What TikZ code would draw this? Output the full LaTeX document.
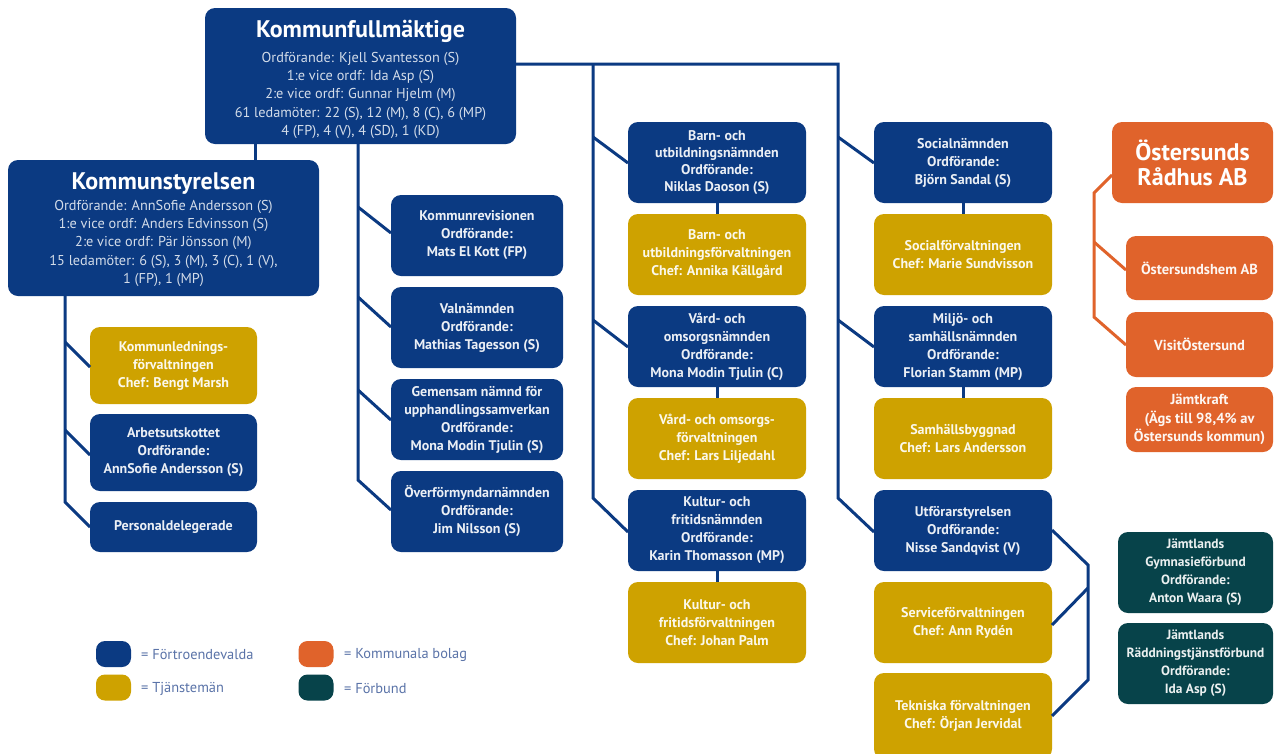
\documentclass[tikz,border=0pt]{standalone}
\usepackage{fontspec}
\setmainfont{PT Sans}
\usetikzlibrary{calc}
\definecolor{kblue}{HTML}{0B3A82}
\definecolor{kgold}{HTML}{CEA200}
\definecolor{korange}{HTML}{E0632B}
\definecolor{kteal}{HTML}{07434A}
\definecolor{klegend}{HTML}{5A73A8}
\begin{document}
\begin{tikzpicture}[x=1pt,y=-1pt,
  basebox/.style={rounded corners=10pt, inner sep=0pt, outer sep=0pt, align=center,
    font=\fontsize{14}{18}\selectfont\bfseries},
  nbox/.style={basebox, fill=kblue, text=white!92!kblue},
  tbox/.style={basebox, fill=kgold, text=white!92!kgold},
  obox/.style={basebox, fill=korange, text=white!94!korange, font=\fontsize{14.5}{18.5}\selectfont\bfseries},
  fbox/.style={basebox, fill=kteal, text=white!92!kteal, font=\fontsize{13.4}{18}\selectfont\bfseries},
  bigbox/.style={nbox},
  bigtext/.style={inner sep=0pt, align=center, font=\fontsize{14.3}{18.3}\selectfont, text=white!82!kblue},
  conn/.style={draw=kblue, line width=3pt, line join=miter},
  oconn/.style={draw=korange, line width=3pt, line join=miter},
  legbox/.style={rounded corners=9pt, inner sep=0pt, outer sep=0pt, minimum width=35pt, minimum height=26pt},
  legtext/.style={anchor=west, inner sep=0pt, text=klegend, font=\fontsize{14.4}{16}\selectfont}
]
\useasboundingbox (0,0) rectangle (1274,753);
\fill[white] (0,0) rectangle (1274,753);

% ---------- top level ----------
\node[bigbox, minimum width=311pt, minimum height=136pt] (kf) at (360.5,76) {};
\node[bigtext] (kft) at (360.5,79.5)
 {{\fontsize{24}{26}\selectfont\bfseries\color{white} Kommunfullmäktige}\\[6pt]
  Ordförande: Kjell Svantesson (S)\\
  1:e vice ordf: Ida Asp (S)\\
  2:e vice ordf: Gunnar Hjelm (M)\\
  61 ledamöter: 22 (S), 12 (M), 8 (C), 6 (MP)\\
  4 (FP), 4 (V), 4 (SD), 1 (KD)};

\node[bigbox, minimum width=311pt, minimum height=136pt] (ks) at (163.5,228) {};
\node[bigtext] (kst) at (163.5,229.5)
 {{\fontsize{24}{26}\selectfont\bfseries\color{white} Kommunstyrelsen}\\[3pt]
  Ordförande: AnnSofie Andersson (S)\\
  1:e vice ordf: Anders Edvinsson (S)\\
  2:e vice ordf: Pär Jönsson (M)\\
  15 ledamöter: 6 (S), 3 (M), 3 (C), 1 (V),\\
  1 (FP), 1 (MP)};

% ---------- column 1 ----------
\node[tbox, minimum width=167pt, minimum height=77pt] (klf) at (173.5,365.5)
 {Kommunlednings-\\förvaltningen\\Chef: Bengt Marsh};
\node[nbox, minimum width=167pt, minimum height=77pt] (au) at (173.5,452.5)
 {Arbetsutskottet\\Ordförande:\\AnnSofie Andersson (S)};
\node[nbox, minimum width=167pt, minimum height=50pt] (pd) at (173.5,527)
 {Personaldelegerade};

% ---------- column 2 ----------
\node[nbox, minimum width=172pt, minimum height=81pt] (kr) at (477,235.5)
 {Kommunrevisionen\\Ordförande:\\Mats El Kott (FP)};
\node[nbox, minimum width=172pt, minimum height=81pt] (vn) at (477,327.5)
 {Valnämnden\\Ordförande:\\Mathias Tagesson (S)};
\node[nbox, minimum width=172pt, minimum height=81pt] (gn) at (477,419.5)
 {Gemensam nämnd för\\upphandlingssamverkan\\Ordförande:\\Mona Modin Tjulin (S)};
\node[nbox, minimum width=172pt, minimum height=81pt] (on) at (477,511.5)
 {Överförmyndarnämnden\\Ordförande:\\Jim Nilsson (S)};

% ---------- column 3 ----------
\node[nbox, minimum width=178pt, minimum height=81pt, font=\fontsize{14}{16.8}\selectfont\bfseries] (bun) at (717,162.5)
 {Barn- och\\utbildningsnämnden\\Ordförande:\\Niklas Daoson (S)};
\node[tbox, minimum width=178pt, minimum height=81pt] (buf) at (717,254.5)
 {Barn- och\\utbildningsförvaltningen\\Chef: Annika Källgård};
\node[nbox, minimum width=178pt, minimum height=81pt] (von) at (717,346.5)
 {Vård- och\\omsorgsnämnden\\Ordförande:\\Mona Modin Tjulin (C)};
\node[tbox, minimum width=178pt, minimum height=81pt] (vof) at (717,438.5)
 {Vård- och omsorgs-\\förvaltningen\\Chef: Lars Liljedahl};
\node[nbox, minimum width=178pt, minimum height=81pt] (kfn) at (717,530.5)
 {Kultur- och\\fritidsnämnden\\Ordförande:\\Karin Thomasson (MP)};
\node[tbox, minimum width=178pt, minimum height=81pt] (kff) at (717,622.5)
 {Kultur- och\\fritidsförvaltningen\\Chef: Johan Palm};

% ---------- column 4 ----------
\node[nbox, minimum width=178pt, minimum height=81pt] (sn) at (963,162.5)
 {Socialnämnden\\Ordförande:\\Björn Sandal (S)};
\node[tbox, minimum width=178pt, minimum height=81pt] (sf) at (963,254.5)
 {Socialförvaltningen\\Chef: Marie Sundvisson};
\node[nbox, minimum width=178pt, minimum height=81pt] (msn) at (963,346.5)
 {Miljö- och\\samhällsnämnden\\Ordförande:\\Florian Stamm (MP)};
\node[tbox, minimum width=178pt, minimum height=81pt] (sb) at (963,438.5)
 {Samhällsbyggnad\\Chef: Lars Andersson};
\node[nbox, minimum width=178pt, minimum height=81pt] (us) at (963,530.5)
 {Utförarstyrelsen\\Ordförande:\\Nisse Sandqvist (V)};
\node[tbox, minimum width=178pt, minimum height=81pt] (svf) at (963,622.5)
 {Serviceförvaltningen\\Chef: Ann Rydén};
\node[tbox, minimum width=178pt, minimum height=86pt] (tf) at (963,716)
 {Tekniska förvaltningen\\Chef: Örjan Jervidal};

% ---------- companies ----------
\node[obox, minimum width=161pt, minimum height=81pt, font=\fontsize{24}{25}\selectfont\bfseries, text=white] (rab) at (1192.5,162.5)
 {Östersunds\\Rådhus AB};
\node[obox, minimum width=147pt, minimum height=64pt] (oh) at (1199.5,268)
 {Östersundshem AB};
\node[obox, minimum width=147pt, minimum height=65pt] (vo) at (1199.5,344.5)
 {VisitÖstersund};
\node[obox, minimum width=147pt, minimum height=65pt] (jk) at (1199.5,419.5)
 {Jämtkraft\\(Ägs till 98,4\% av\\Östersunds kommun)};

% ---------- federations ----------
\node[fbox, minimum width=155pt, minimum height=81pt] (jg) at (1195.5,572.5)
 {Jämtlands\\Gymnasieförbund\\Ordförande:\\Anton Waara (S)};
\node[fbox, minimum width=155pt, minimum height=81pt] (jr) at (1195.5,663.5)
 {Jämtlands\\Räddningstjänstförbund\\Ordförande:\\Ida Asp (S)};

% ---------- junction coordinates ----------
\coordinate (kfks) at (255,144);
\coordinate (c1t) at (65,296);
\coordinate (c1a) at (65,342);
\coordinate (c1b) at (65,430);
\coordinate (c1c) at (65,502);
\coordinate (c2t) at (358,144);
\coordinate (c2a) at (358,207);
\coordinate (c2b) at (358,297);
\coordinate (c2c) at (358,390);
\coordinate (c2d) at (358,480);
\coordinate (c3t) at (593,64);
\coordinate (c3a) at (593,137);
\coordinate (c3b) at (593,320);
\coordinate (c3c) at (593,498);
\coordinate (c4t) at (838,64);
\coordinate (c4a) at (838,137);
\coordinate (c4b) at (838,320);
\coordinate (c4c) at (838,498);
\coordinate (ua) at (1088,565);
\coordinate (ub) at (1088,588);
\coordinate (uc) at (1088,680);
\coordinate (oa) at (1094,193);
\coordinate (ob) at (1094,242);
\coordinate (oc) at (1094,317);

% ---------- connectors ----------
\draw[conn] (kfks) -- (kfks |- ks.north);
% column 1
\draw[conn] (c1t) -- (c1c) -- ($(pd.north west)+(0,25)$);
\draw[conn] (c1a) -- ($(klf.north west)+(0,40)$);
\draw[conn] (c1b) -- ($(au.north west)+(0,41)$);
% column 2
\draw[conn] (c2t) -- (c2d) -- ($(on.north west)+(0,39)$);
\draw[conn] (c2a) -- ($(kr.north west)+(0,38)$);
\draw[conn] (c2b) -- ($(vn.north west)+(0,40)$);
\draw[conn] (c2c) -- ($(gn.north west)+(0,41)$);
% top bar and columns 3/4
\draw[conn] (kf.east |- c3t) -- (c4t) -- (c4c) -- ($(us.north west)+(0,42)$);
\draw[conn] (c3t) -- (c3c) -- ($(kfn.north west)+(0,42)$);
\draw[conn] (c3a) -- ($(bun.north west)+(0,41)$);
\draw[conn] (c3b) -- ($(von.north west)+(0,41)$);
\draw[conn] (c4a) -- ($(sn.north west)+(0,41)$);
\draw[conn] (c4b) -- ($(msn.north west)+(0,41)$);
\draw[conn] (bun) -- (buf);
\draw[conn] (von) -- (vof);
\draw[conn] (kfn) -- (kff);
\draw[conn] (sn) -- (sf);
\draw[conn] (msn) -- (sb);
% Utförarstyrelsen
\draw[conn] ($(us.north east)+(0,40)$) -- (ua) -- (uc) -- ($(tf.north east)+(0,43)$);
\draw[conn] (ub) -- ($(svf.north east)+(0,43)$);
% companies
\draw[oconn] ($(rab.north west)+(0,53)$) -- (oa) -- (oc) -- ($(vo.north west)+(0,33)$);
\draw[oconn] (ob) -- ($(oh.north west)+(0,34)$);

% ---------- legend ----------
\node[legbox, fill=kblue] (lg1) at (113.5,654) {};
\node[legbox, fill=kgold] (lg2) at (113.5,687.5) {};
\node[legbox, fill=korange] (lg3) at (316,654) {};
\node[legbox, fill=kteal] (lg4) at (316,687.5) {};
\node[legtext] (lt1) at (141,655) {= Förtroendevalda};
\node[legtext] (lt2) at (141,688.5) {= Tjänstemän};
\node[legtext] (lt3) at (344,655) {= Kommunala bolag};
\node[legtext] (lt4) at (344,688.5) {= Förbund};
\end{tikzpicture}
\end{document}
